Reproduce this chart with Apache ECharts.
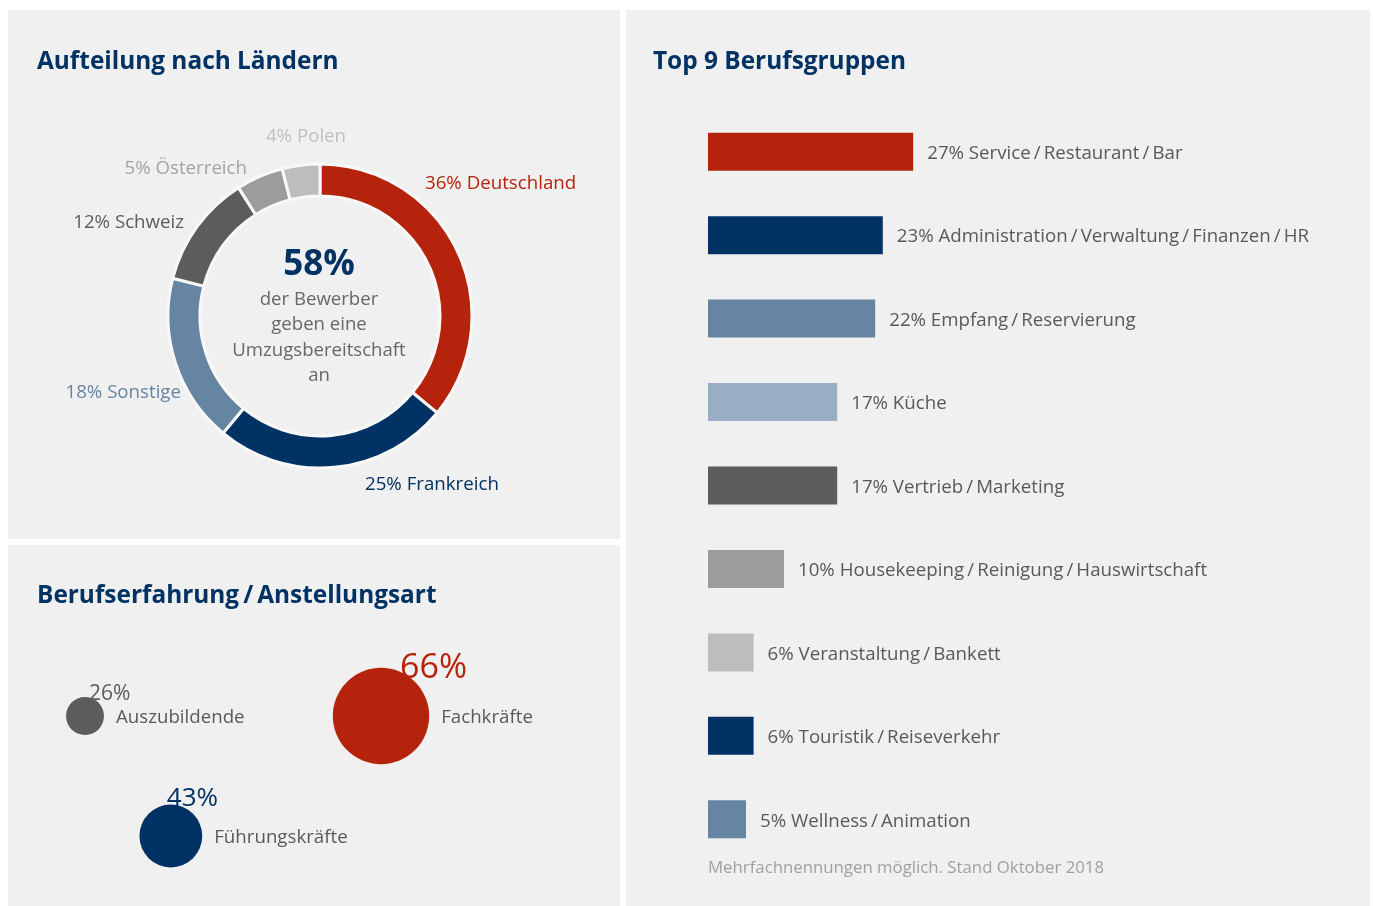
<!DOCTYPE html>
<html lang="de">
<head>
<meta charset="utf-8">
<title>Bewerberstatistik</title>
<script src="https://cdn.jsdelivr.net/npm/echarts@6/dist/echarts.min.js"></script>
<style>
  html, body { margin: 0; padding: 0; background: #ffffff; }
  #chart { width: 1373px; height: 906px; }
</style>
</head>
<body>
<div id="chart"></div>
<script>
// Aufteilung nach Ländern (Prozent)
const countryNames = ['Deutschland', 'Frankreich', 'Sonstige', 'Schweiz', 'Österreich', 'Polen'];
const countryValues = [36, 25, 18, 12, 5, 4];

// Top 9 Berufsgruppen (Prozent)
const jobNames = [
  'Service\u2009/\u2009Restaurant\u2009/\u2009Bar',
  'Administration\u2009/\u2009Verwaltung\u2009/\u2009Finanzen\u2009/\u2009HR',
  'Empfang\u2009/\u2009Reservierung',
  'Küche',
  'Vertrieb\u2009/\u2009Marketing',
  'Housekeeping\u2009/\u2009Reinigung\u2009/\u2009Hauswirtschaft',
  'Veranstaltung\u2009/\u2009Bankett',
  'Touristik\u2009/\u2009Reiseverkehr',
  'Wellness\u2009/\u2009Animation'
];
const jobValues = [27, 23, 22, 17, 17, 10, 6, 6, 5];

// Berufserfahrung / Anstellungsart (Prozent) und Lage im Raster
const levelNames = ['Auszubildende', 'Fachkräfte', 'Führungskräfte'];
const levelValues = [26, 66, 43];
const levelCol = [0, 1, 0.29];
const levelRow = [0, 0, 1];

const NAVY = '#003263', RED = '#b5230c', STEEL = '#6685a3', LIGHTSTEEL = '#99adc4',
      DARK = '#5c5c5c', MID = '#9c9c9c', LIGHT = '#bdbdbd', TEXT = '#595959';
const FONT = '"Open Sans", "Noto Sans", sans-serif';
const LABEL_SIZE = 18.7;

const countryColors = [RED, NAVY, STEEL, DARK, MID, LIGHT];
const countryLabelColors = [RED, NAVY, STEEL, DARK, '#a3a3a3', '#c0c0c0'];
const jobColors = [RED, NAVY, STEEL, LIGHTSTEEL, DARK, MID, LIGHT, NAVY, STEEL];
const levelColors = [DARK, RED, NAVY];

// Beschriftungsplätze rund um den Ring
const countryLabelSpots = [
  { x: 425, y: 184, align: 'left' },
  { x: 365, y: 485, align: 'left' },
  { x: 181, y: 393, align: 'right' },
  { x: 184, y: 223, align: 'right' },
  { x: 247, y: 169, align: 'right' },
  { x: 306, y: 137, align: 'center' }
];
// Versatz der Prozentangaben an den Kreisen
const levelValueShift = [[4, -3], [19, 0], [-4, -6]];

const chart = echarts.init(document.getElementById('chart'), null, { renderer: 'canvas' });

const titleStyle = (text, x, y) => ({
  type: 'text', x, y,
  style: { text, fill: NAVY, font: 'bold 24.4px ' + FONT, verticalAlign: 'middle' }
});

const centerLine = (text, y) => ({
  type: 'text', x: 319, y,
  style: { text, fill: '#676767', font: '18.6px ' + FONT, align: 'center', verticalAlign: 'middle' }
});

const option = {
  backgroundColor: '#ffffff',
  textStyle: { fontFamily: FONT },
  animation: false,
  graphic: [
    { type: 'rect', shape: { x: 8, y: 10, width: 612, height: 529 }, style: { fill: '#f0f0f0' }, z: -10 },
    { type: 'rect', shape: { x: 8, y: 545, width: 612, height: 361 }, style: { fill: '#f0f0f0' }, z: -10 },
    { type: 'rect', shape: { x: 626, y: 10, width: 744, height: 896 }, style: { fill: '#f0f0f0' }, z: -10 },
    titleStyle('Aufteilung nach Ländern', 37, 62),
    titleStyle('Berufserfahrung\u2009/\u2009Anstellungsart', 37, 596),
    titleStyle('Top 9 Berufsgruppen', 653, 62),
    {
      type: 'text', x: 319, y: 265,
      style: { text: '58%', fill: NAVY, font: 'bold 35px ' + FONT, align: 'center', verticalAlign: 'middle' }
    },
    centerLine('der Bewerber', 300),
    centerLine('geben eine', 325),
    centerLine('Umzugsbereitschaft', 351),
    centerLine('an', 376),
    {
      type: 'text', x: 708, y: 868,
      style: { text: 'Mehrfachnennungen möglich. Stand Oktober 2018', fill: '#a0a0a0', font: '16.8px ' + FONT, verticalAlign: 'middle' }
    }
  ],
  grid: [
    { left: 708, top: 110, width: 608, height: 751 },
    { left: 85, top: 716, width: 296, height: 120 }
  ],
  xAxis: [
    { gridIndex: 0, type: 'value', min: 0, max: 80, show: false },
    { gridIndex: 1, type: 'value', min: 0, max: 1, show: false }
  ],
  yAxis: [
    { gridIndex: 0, type: 'category', data: jobNames, inverse: true, show: false },
    { gridIndex: 1, type: 'value', min: 0, max: 1, inverse: true, show: false }
  ],
  series: [
    {
      type: 'pie',
      center: [320, 316],
      radius: [120, 152],
      startAngle: 90,
      clockwise: true,
      avoidLabelOverlap: false,
      itemStyle: { borderColor: '#f8f8f8', borderWidth: 3 },
      label: {
        show: true,
        fontSize: LABEL_SIZE,
        fontFamily: FONT,
        formatter: p => p.value + '% ' + p.name
      },
      labelLine: { show: false },
      labelLayout: p => {
        const s = countryLabelSpots[p.dataIndex];
        return { x: s.x, y: s.y, align: s.align, verticalAlign: 'middle' };
      },
      data: countryNames.map((n, i) => ({
        name: n, value: countryValues[i],
        itemStyle: { color: countryColors[i] },
        label: { color: countryLabelColors[i] }
      }))
    },
    {
      type: 'bar',
      xAxisIndex: 0, yAxisIndex: 0,
      barWidth: 38,
      label: {
        show: true, position: 'right', distance: 14, offset: [0, 2],
        color: TEXT, fontSize: LABEL_SIZE, fontFamily: FONT,
        formatter: p => p.value + '% ' + p.name
      },
      data: jobValues.map((v, i) => ({ value: v, itemStyle: { color: jobColors[i] } }))
    },
    {
      type: 'scatter',
      xAxisIndex: 1, yAxisIndex: 1,
      clip: false,
      symbolSize: d => d[2] * 1.46,
      itemStyle: { opacity: 1 },
      label: {
        show: true, position: 'right', distance: 12, offset: [0, 2],
        color: TEXT, fontSize: LABEL_SIZE, fontFamily: FONT,
        formatter: p => levelNames[p.dataIndex]
      },
      data: levelValues.map((v, i) => ({
        value: [levelCol[i], levelRow[i], v],
        itemStyle: { color: levelColors[i] }
      }))
    },
    {
      type: 'scatter',
      xAxisIndex: 1, yAxisIndex: 1,
      clip: false,
      z: 5,
      symbolSize: d => d[2] * 1.46,
      itemStyle: { color: 'rgba(0,0,0,0)', opacity: 1 },
      label: {
        show: true, position: 'top', distance: 0,
        align: 'left', verticalAlign: 'middle',
        fontFamily: FONT, opacity: 1
      },
      emphasis: { disabled: true },
      data: levelValues.map((v, i) => ({
        value: [levelCol[i], levelRow[i], v],
        label: {
          formatter: v + '%',
          color: levelColors[i],
          fontSize: Math.round(12 + v / 3),
          offset: levelValueShift[i]
        }
      }))
    }
  ]
};

chart.setOption(option);
</script>
</body>
</html>
